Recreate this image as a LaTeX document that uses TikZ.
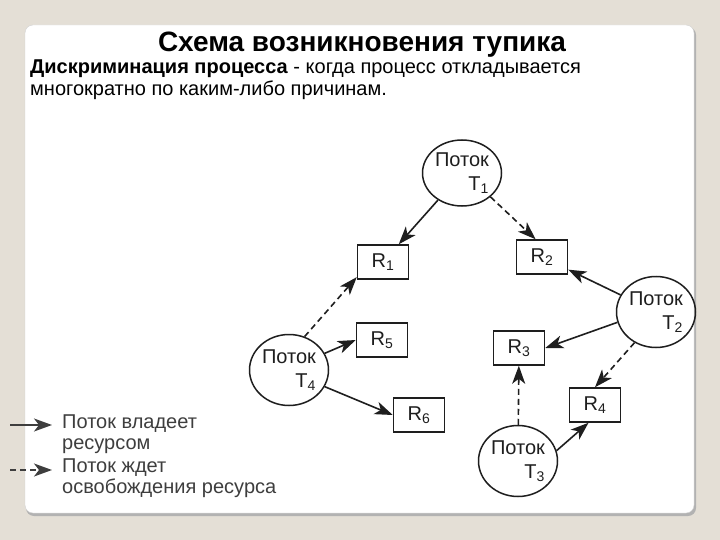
\documentclass[tikz,border=0pt]{standalone}
\usepackage{fontspec}
\setmainfont{Liberation Sans}
\usetikzlibrary{arrows.meta,shapes.geometric}
\definecolor{slidebg}{HTML}{E4DFD6}
\definecolor{ink}{HTML}{1E1E1E}
\definecolor{leggray}{HTML}{3E3E3E}
\begin{document}
\begin{tikzpicture}[x=1pt,y=-1pt,
  thread/.style={ellipse,draw=ink,line width=1.5pt,minimum width=79pt,minimum height=71pt,inner sep=0pt,align=right,text=ink,font=\fontsize{20}{24}\selectfont},
  res/.style={rectangle,draw=ink,line width=1.5pt,minimum width=51pt,minimum height=34pt,inner sep=0pt,text=ink,font=\fontsize{20}{22}\selectfont},
  owns/.style={draw=ink,line width=1.6pt,-{Stealth[length=18pt,width=13pt,inset=5pt]}},
  waits/.style={owns,dash pattern=on 6pt off 4pt}]
\useasboundingbox (0,0) rectangle (720,540);
\fill[slidebg] (0,0) rectangle (720,540);
\fill[gray!60,rounded corners=8pt] (26,27) rectangle (696,516);
\fill[white,draw=gray!35,rounded corners=8pt] (25,25) rectangle (694,513);
\node[anchor=base,font=\bfseries\fontsize{28}{32}\selectfont] (title) at (362,52) {Схема возникновения тупика};
\node[anchor=base west,inner sep=0pt,font=\fontsize{20}{24}\selectfont] (def1) at (30,74) {\textbf{Дискриминация процесса} - когда процесс откладывается};
\node[anchor=base west,inner sep=0pt,font=\fontsize{20}{24}\selectfont] (def2) at (30,96) {многократно по каким-либо причинам.};
\node[thread,minimum height=66pt] (T1) at (462,173) {Поток\\T\textsubscript{1}};
\node[thread] (T2) at (656,312) {Поток\\T\textsubscript{2}};
\node[thread] (T3) at (518,461) {Поток\\T\textsubscript{3}};
\node[thread] (T4) at (289,370) {Поток\\T\textsubscript{4}};
\node[res] (R1) at (383,262) {R\textsubscript{1}};
\node[res] (R2) at (542,257) {R\textsubscript{2}};
\node[res] (R3) at (519,348) {R\textsubscript{3}};
\node[res] (R4) at (595,405) {R\textsubscript{4}};
\node[res] (R5) at (382,340) {R\textsubscript{5}};
\node[res] (R6) at (419,415) {R\textsubscript{6}};
\draw[owns] (T1) -- (R1);
\draw[waits] (T1.-40) -- (R2.110);
\draw[owns] (T2) -- (R2);
\draw[owns] (T2.195) -- (R3.east);
\draw[waits] (T2.235) -- (R4.north);
\draw[waits] (T3) -- (R3);
\draw[owns] (T3.15) -- (R4.250);
\draw[waits] (T4.65) -- (R1.210);
\draw[owns] (T4.25) -- (R5.west);
\draw[owns] (T4.-25) -- (R6.west);
\coordinate (ownA) at (10,425);
\coordinate (ownB) at (52,425);
\coordinate (waitA) at (10,470);
\coordinate (waitB) at (52,470);
\draw[owns,draw=leggray] (ownA) -- (ownB);
\draw[waits,draw=leggray] (waitA) -- (waitB);
\node[anchor=base west,inner sep=0pt,text=leggray,font=\fontsize{20}{22}\selectfont] (legOwn) at (62,428) {Поток владеет};
\node[anchor=base west,inner sep=0pt,text=leggray,font=\fontsize{20}{22}\selectfont] (legOwn2) at (62,449) {ресурсом};
\node[anchor=base west,inner sep=0pt,text=leggray,font=\fontsize{20}{22}\selectfont] (legWait) at (62,472) {Поток ждет};
\node[anchor=base west,inner sep=0pt,text=leggray,font=\fontsize{20}{22}\selectfont] (legWait2) at (62,493) {освобождения ресурса};
\end{tikzpicture}
\end{document}
